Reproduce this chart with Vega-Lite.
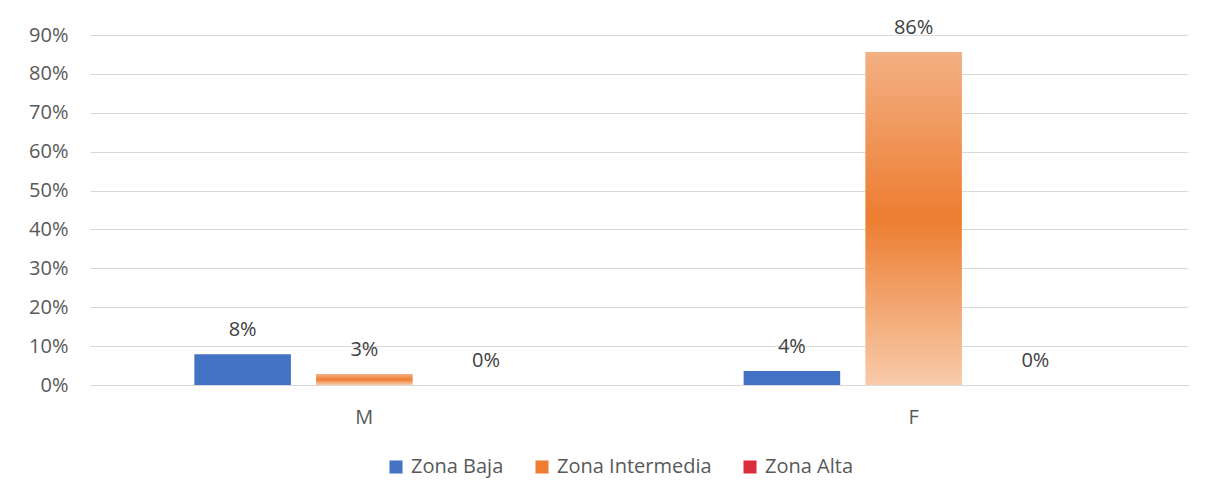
{
  "$schema": "https://vega.github.io/schema/vega-lite/v6.json",
  "width": 1098,
  "height": 350,
  "autosize": {"type": "none"},
  "padding": {"left": 90, "top": 35, "right": 22, "bottom": 118},
  "background": "white",
  "config": {
    "view": {"stroke": null},
    "font": "Open Sans",
    "axis": {"labelFont": "Open Sans", "labelFontSize": 20, "labelColor": "#595959"},
    "legend": {"labelFont": "Open Sans", "labelFontSize": 20, "labelColor": "#595959"}
  },
  "data": {
    "values": [
      {"sexo": "M", "zona": "Zona Baja", "valor": 0.079},
      {"sexo": "M", "zona": "Zona Intermedia", "valor": 0.028},
      {"sexo": "M", "zona": "Zona Alta", "valor": 0},
      {"sexo": "F", "zona": "Zona Baja", "valor": 0.036},
      {"sexo": "F", "zona": "Zona Intermedia", "valor": 0.856},
      {"sexo": "F", "zona": "Zona Alta", "valor": 0}
    ]
  },
  "encoding": {
    "x": {
      "field": "sexo", "type": "nominal",
      "scale": {"domain": ["M", "F"], "paddingInner": 0.381, "paddingOuter": 0.19},
      "axis": {"title": null, "labelAngle": 0, "ticks": false, "domain": true, "domainColor": "#D9D9D9", "labelPadding": 22, "grid": false}
    },
    "xOffset": {
      "field": "zona", "type": "nominal",
      "scale": {"domain": ["Zona Baja", "Zona Intermedia", "Zona Alta"], "paddingInner": 0.207, "paddingOuter": 0}
    },
    "y": {
      "field": "valor", "type": "quantitative",
      "scale": {"domain": [0, 0.9], "nice": false},
      "axis": {"title": null, "format": ".0%", "values": [0, 0.1, 0.2, 0.3, 0.4, 0.5, 0.6, 0.7, 0.8, 0.9], "domain": false, "ticks": false, "grid": true, "gridColor": "#D9D9D9", "labelPadding": 22}
    }
  },
  "layer": [
    {
      "transform": [{"filter": "datum.zona !== 'Zona Intermedia'"}],
      "mark": {"type": "bar"},
      "encoding": {
        "color": {
          "field": "zona", "type": "nominal",
          "scale": {"domain": ["Zona Baja", "Zona Intermedia", "Zona Alta"], "range": ["#4472C4", "#ED7D31", "#DC2D3C"]},
          "legend": {"title": null, "orient": "none", "legendX": 296, "legendY": 422, "direction": "horizontal", "symbolType": "square", "symbolSize": 170, "symbolStrokeWidth": 0, "labelOffset": 5, "columnPadding": 28}
        }
      }
    },
    {
      "transform": [{"filter": "datum.zona === 'Zona Intermedia'"}],
      "mark": {
        "type": "bar",
        "color": {
          "gradient": "linear", "x1": 0, "y1": 0, "x2": 0, "y2": 1,
          "stops": [
            {"offset": 0, "color": "#F3B083"},
            {"offset": 0.5, "color": "#ED7D31"},
            {"offset": 1, "color": "#F8CBAA"}
          ]
        }
      }
    },
    {
      "mark": {"type": "text", "dy": -24, "baseline": "middle", "fontSize": 20, "color": "#404040", "font": "Open Sans"},
      "encoding": {
        "text": {"field": "valor", "type": "quantitative", "format": ".0%"}
      }
    }
  ]
}
